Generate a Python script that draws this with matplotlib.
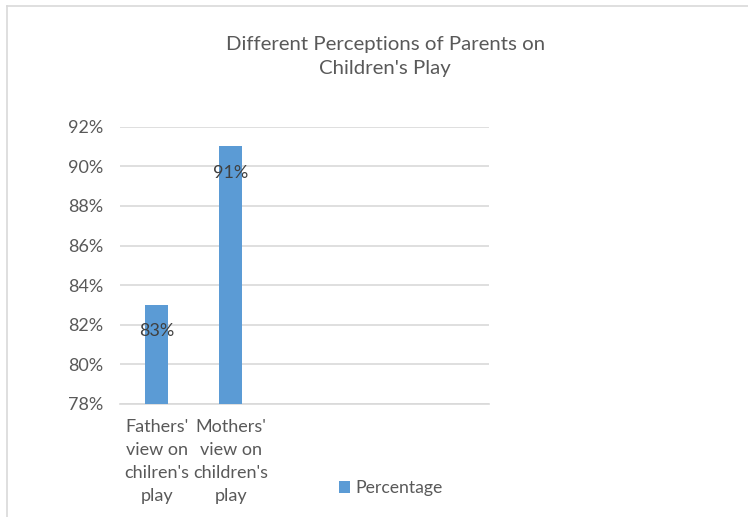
import numpy as np
import matplotlib
matplotlib.use("Agg")
from matplotlib import pyplot as plt
from matplotlib.lines import Line2D
from matplotlib.ticker import PercentFormatter

# categories (Excel chart kept 3 empty slots on the axis)
categories = ["Fathers'\nview on\nchilren's\nplay", "Mothers'\nview on\nchildren's\nplay", "", "", ""]
percentage = [0.83, 0.91, np.nan, np.nan, np.nan]
y_ticks = [0.78, 0.80, 0.82, 0.84, 0.86, 0.88, 0.90, 0.92]

bar_color = '#5b9bd5'
text_color = '#595959'
grid_color = '#d9d9d9'

plt.rcParams['font.family'] = ['Lato', 'DejaVu Sans']

fig = plt.figure(figsize=(7.48, 5.17), dpi=100)
ax = fig.add_axes([0.1604, 0.2186, 0.4933, 0.5364])

x = np.arange(len(categories))
bars = ax.bar(x, percentage, width=0.31, color=bar_color, label='Percentage', zorder=3)

ax.set_xlim(-0.5, len(categories) - 0.5)
ax.set_ylim(y_ticks[0], y_ticks[-1])
ax.set_yticks(y_ticks)
ax.yaxis.set_major_formatter(PercentFormatter(1.0, decimals=0))
ax.set_xticks(x)
ax.set_xticklabels(categories, linespacing=1.53)

ax.grid(axis='y', color=grid_color, linewidth=1.2, zorder=0)
for side in ['top', 'right', 'left']:
    ax.spines[side].set_visible(False)
ax.spines['bottom'].set_color(grid_color)
ax.spines['bottom'].set_linewidth(1.2)
ax.tick_params(axis='both', length=0, labelsize=13, colors=text_color)
ax.tick_params(axis='y', pad=12)
ax.tick_params(axis='x', pad=11)

# data labels inside the top of each bar
for xi, v in zip(x, percentage):
    if not np.isnan(v):
        ax.annotate(f"{v:.0%}", (xi, v), xytext=(0, -19), textcoords='offset points',
                    ha='center', va='center', fontsize=13, color='#404040', zorder=4)

fig.text(0.515, 0.891, "Different Perceptions of Parents on\nChildren's Play", ha='center', va='center',
         fontsize=14.7, color=text_color, linespacing=1.5)

ax.legend(loc='center left', bbox_to_anchor=(0.453, 0.056), bbox_transform=fig.transFigure,
          frameon=False, fontsize=12.7, borderpad=0, borderaxespad=0,
          handlelength=0.65, handleheight=0.65, handletextpad=0.3, labelcolor=text_color)

# chart frame (only the top and left edges are inside the image)
fig.add_artist(Line2D([7 / 748, 7 / 748], [0, 1 - 6 / 517], color=grid_color, lw=1.2))
fig.add_artist(Line2D([7 / 748, 1], [1 - 6 / 517, 1 - 6 / 517], color=grid_color, lw=1.2))

fig.savefig('out.png', dpi=100)
